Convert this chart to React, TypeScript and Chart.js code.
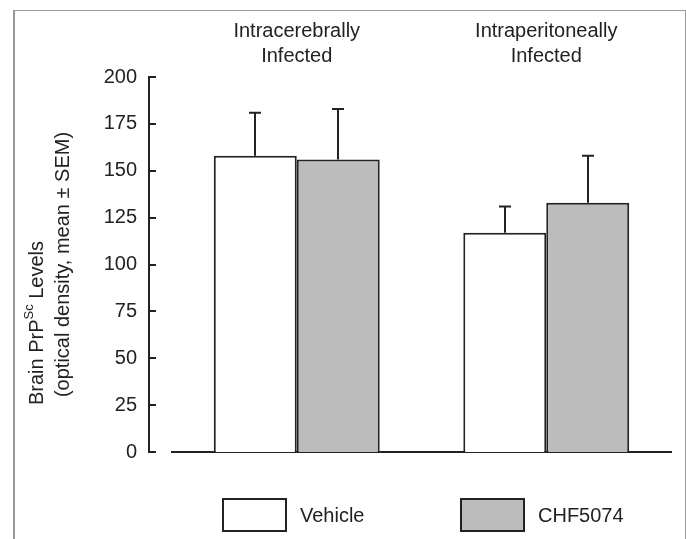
import React, { useEffect, useRef } from "react";
import { Chart, registerables } from "chart.js";

Chart.register(...registerables);

// ---- data ----
const categories = [
  ["Intracerebrally", "Infected"],
  ["Intraperitoneally", "Infected"],
];
const seriesNames = ["Vehicle", "CHF5074"];
const vehicleMeans = [158, 117];
const vehicleSem = [23, 14];
const chfMeans = [156, 133];
const chfSem = [27, 25];
const yMin = 0;
const yMax = 200;
const yStep = 25;
const yTitleLine1 = ["Brain PrP", "Sc", " Levels"];
const yTitleLine2 = "(optical density, mean ± SEM)";

const FONT = "'Liberation Sans', Arial, Helvetica, sans-serif";
const INK = "#222222";
const GRAY = "#bcbcbc";

const semByDataset = [vehicleSem, chfSem];

const errorBarPlugin = {
  id: "errorBars",
  afterDatasetsDraw(chart: any) {
    const ctx = chart.ctx;
    const y = chart.scales.y;
    ctx.save();
    ctx.strokeStyle = INK;
    ctx.lineWidth = 2;
    chart.data.datasets.forEach((ds: any, i: number) => {
      const meta = chart.getDatasetMeta(i);
      meta.data.forEach((el: any, j: number) => {
        const top = y.getPixelForValue(ds.data[j] + semByDataset[i][j]);
        const x = Math.round(el.x);
        ctx.beginPath();
        ctx.moveTo(x, el.y);
        ctx.lineTo(x, top);
        ctx.moveTo(x - 6, top);
        ctx.lineTo(x + 6, top);
        ctx.stroke();
      });
    });
    ctx.restore();
  },
};

const axisPlugin = {
  id: "leftAxis",
  afterDraw(chart: any) {
    const ctx = chart.ctx;
    const y = chart.scales.y;
    const ax = chart.chartArea.left - 23;
    ctx.save();
    ctx.strokeStyle = INK;
    ctx.lineWidth = 2;
    ctx.beginPath();
    ctx.moveTo(ax, y.getPixelForValue(yMin) + 1);
    ctx.lineTo(ax, y.getPixelForValue(yMax) - 1);
    for (let v = yMin; v <= yMax; v += yStep) {
      const py = Math.round(y.getPixelForValue(v));
      ctx.moveTo(ax, py);
      ctx.lineTo(ax + 7, py);
    }
    ctx.stroke();

    // y title (two rotated lines, left-aligned in the rotated box)
    const cy = (chart.chartArea.top + chart.chartArea.bottom) / 2;
    const big = `20px ${FONT}`;
    const small = `13px ${FONT}`;
    ctx.fillStyle = INK;
    ctx.textBaseline = "middle";
    ctx.font = big;
    const wLine2 = ctx.measureText(yTitleLine2).width;
    const startX = -wLine2 / 2;
    // line 1 with superscript
    ctx.save();
    ctx.translate(37, cy);
    ctx.rotate(-Math.PI / 2);
    ctx.font = big;
    const w0 = ctx.measureText(yTitleLine1[0]).width;
    ctx.font = small;
    const w1 = ctx.measureText(yTitleLine1[1]).width;
    const x0 = startX - 8;
    ctx.textAlign = "left";
    ctx.font = big;
    ctx.fillText(yTitleLine1[0], x0, 0);
    ctx.font = small;
    ctx.fillText(yTitleLine1[1], x0 + w0, -8);
    ctx.font = big;
    ctx.fillText(yTitleLine1[2], x0 + w0 + w1, 0);
    ctx.restore();
    // line 2
    ctx.save();
    ctx.translate(63, cy);
    ctx.rotate(-Math.PI / 2);
    ctx.font = big;
    ctx.textAlign = "left";
    ctx.fillText(yTitleLine2, startX, 0);
    ctx.restore();

    // legend
    const boxXs = [223, 461];
    ctx.font = `20px ${FONT}`;
    ctx.textAlign = "left";
    ctx.textBaseline = "middle";
    chart.data.datasets.forEach((ds: any, i: number) => {
      const bx = boxXs[i];
      ctx.fillStyle = ds.backgroundColor;
      ctx.fillRect(bx, 499, 63, 32);
      ctx.lineWidth = 2;
      ctx.strokeStyle = INK;
      ctx.strokeRect(bx, 499, 63, 32);
      ctx.fillStyle = INK;
      ctx.fillText(ds.label, bx + 77, 516);
    });
    ctx.restore();
  },
};

export default function App() {
  const ref = useRef<HTMLCanvasElement | null>(null);
  useEffect(() => {
    if (!ref.current) return;
    const chart = new Chart(ref.current, {
      type: "bar",
      data: {
        labels: categories as any,
        datasets: [
          {
            label: seriesNames[0],
            data: vehicleMeans,
            backgroundColor: "#ffffff",
            borderColor: INK,
            borderWidth: 2,
            categoryPercentage: 0.665,
            barPercentage: 1,
          },
          {
            label: seriesNames[1],
            data: chfMeans,
            backgroundColor: GRAY,
            borderColor: INK,
            borderWidth: 2,
            categoryPercentage: 0.665,
            barPercentage: 1,
          },
        ],
      },
      options: {
        responsive: false,
        animation: false,
        devicePixelRatio: 1,
        layout: { padding: { left: 0, right: 15, top: 0, bottom: 87 } },
        plugins: {
          legend: { display: false },
          tooltip: { enabled: false },
        },
        scales: {
          x: {
            type: "category",
            position: "bottom",
            offset: true,
            grid: { display: false, drawTicks: false, offset: true },
            border: { display: true, color: INK, width: 2 },
            ticks: { display: false },
            afterFit: (s: any) => {
              s.height = 0;
            },
          },
          x2: {
            type: "category",
            position: "top",
            offset: true,
            grid: { display: false, drawTicks: false, offset: true },
            border: { display: false },
            ticks: {
              color: INK,
              padding: 8,
              maxRotation: 0,
              font: { family: FONT, size: 20, lineHeight: 1.25 },
            },
            afterFit: (s: any) => {
              s.height = 77;
            },
          },
          y: {
            min: yMin,
            max: yMax,
            grid: { display: false, drawTicks: false },
            border: { display: false },
            ticks: {
              stepSize: yStep,
              color: INK,
              padding: 35,
              font: { family: FONT, size: 20 },
            },
            afterFit: (s: any) => {
              s.width = 172;
            },
          },
        },
      } as any,
      plugins: [errorBarPlugin, axisPlugin],
    });
    return () => chart.destroy();
  }, []);

  return (
    <div style={{ position: "absolute", left: 0, top: 0, width: 686, height: 539, background: "#fff" }}>
      <div
        style={{
          position: "absolute",
          left: 13,
          top: 10,
          width: 673,
          height: 529,
          boxSizing: "border-box",
          borderTop: "1px solid #9a9a9a",
          borderLeft: "2px solid #9a9a9a",
          borderRight: "1px solid #9a9a9a",
        }}
      />
      <canvas ref={ref} width={686} height={539} style={{ position: "absolute", left: 0, top: 0 }} />
    </div>
  );
}
